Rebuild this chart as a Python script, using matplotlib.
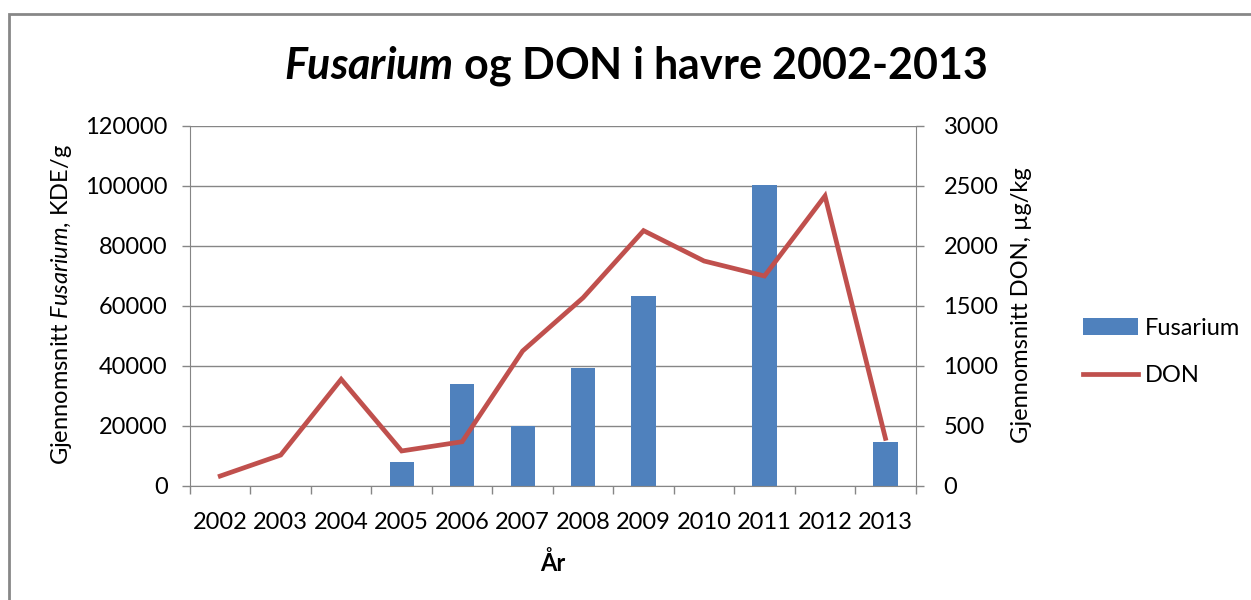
import numpy as np
import matplotlib
matplotlib.use("Agg")
import matplotlib.pyplot as plt
from matplotlib.patches import Rectangle

plt.rcParams["font.family"] = ["Lato", "DejaVu Sans"]
plt.rcParams["mathtext.fontset"] = "custom"
plt.rcParams["mathtext.rm"] = "Lato"
plt.rcParams["mathtext.it"] = "Lato:italic"
plt.rcParams["mathtext.bf"] = "Lato:bold"
plt.rcParams["mathtext.bfit"] = "Lato:italic:bold"

years = ["2002", "2003", "2004", "2005", "2006", "2007",
         "2008", "2009", "2010", "2011", "2012", "2013"]
fusarium = [np.nan, np.nan, np.nan, 8100, 33900, 20000,
            39300, 63200, np.nan, 100400, np.nan, 14600]
don = [83, 258, 889, 292, 369, 1125, 1569, 2128, 1875, 1750, 2417, 397]

W, H = 1251, 600
fig = plt.figure(figsize=(W / 100, H / 100), dpi=100)

# frame of the original chart (only top and left edges visible)
fig.patches.append(Rectangle((9 / W, -0.1), 1.2, (600 - 14) / H + 0.1,
                             transform=fig.transFigure, fill=False,
                             edgecolor="#878787", linewidth=2))

grey = "#868686"
ax = fig.add_axes([190 / W, (H - 486) / H, 725.7 / W, 360 / H])
x = np.arange(len(years))
bars = ax.bar(x, fusarium, width=0.4, color="#4F81BD", label="Fusarium", zorder=2)

ax.set_xlim(-0.5, len(years) - 0.5)
ax.set_ylim(0, 120000)
ax.set_yticks(np.arange(0, 120001, 20000))
ax.set_axisbelow(True)
ax.grid(axis="y", color=grey, linewidth=1)
ax.set_xticks(x)
ax.set_xticklabels(years)
ax.set_xticks(np.arange(-0.5, len(years)), minor=True)
ax.tick_params(axis="x", which="major", length=0, pad=19, labelsize=17)
ax.tick_params(axis="x", which="minor", length=6, color=grey, width=1)
ax.tick_params(axis="y", length=6, color=grey, width=1, pad=10, labelsize=17)
for s in ["top", "right"]:
    ax.spines[s].set_visible(False)
for s in ["left", "bottom"]:
    ax.spines[s].set_color(grey)

ax2 = ax.twinx()
line, = ax2.plot(x, don, color="#C0504D", linewidth=3.4, label="DON",
                 solid_joinstyle="miter")
ax2.set_ylim(0, 3000)
ax2.set_yticks(np.arange(0, 3001, 500))
ax2.tick_params(axis="y", length=6, color=grey, width=1, pad=14, labelsize=17)
for s in ["top", "left", "bottom"]:
    ax2.spines[s].set_visible(False)
ax2.spines["right"].set_color(grey)

fig.text(636 / W, 1 - 66 / H, r"$\mathbfit{Fusarium}$ og DON i havre 2002-2013",
         fontsize=31, fontweight="bold", ha="center", va="center")
fig.text(553 / W, 1 - 563 / H, "År", fontsize=17, fontweight="bold",
         ha="center", va="center")
fig.text(62 / W, 1 - 305 / H, r"Gjennomsnitt $\mathit{Fusarium}$, KDE/g",
         fontsize=17, rotation=90, ha="center", va="center")
fig.text(1022 / W, 1 - 305 / H, "Gjennomsnitt DON, µg/kg",
         fontsize=17, rotation=90, ha="center", va="center")

fig.legend(handles=[bars, line], loc="center left",
           bbox_to_anchor=(1062 / W, 1 - 352 / H), frameon=False,
           fontsize=17, handlelength=2.3, handletextpad=0.3, labelspacing=1.1)

fig.savefig("out.png", dpi=100)
